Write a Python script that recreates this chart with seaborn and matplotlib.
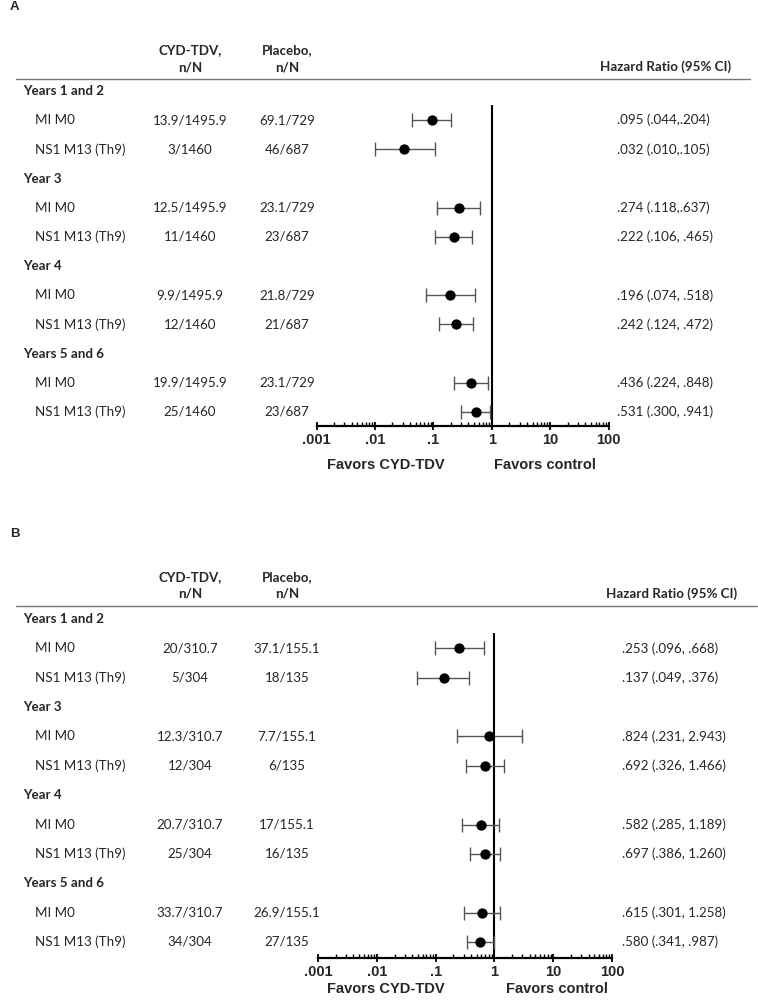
import matplotlib
matplotlib.use("Agg")
import matplotlib.pyplot as plt
import matplotlib.transforms as mtransforms
from matplotlib.lines import Line2D
from matplotlib.ticker import FixedLocator, LogLocator, NullFormatter
import numpy as np
import seaborn as sns

# ---- data -------------------------------------------------------------
groups = ["Years 1 and 2", "Year 3", "Year 4", "Years 5 and 6"]
assays = ["MI M0", "NS1 M13 (Th9)"]

a_cyd = ["13.9/1495.9", "3/1460", "12.5/1495.9", "11/1460",
         "9.9/1495.9", "12/1460", "19.9/1495.9", "25/1460"]
a_pbo = ["69.1/729", "46/687", "23.1/729", "23/687",
         "21.8/729", "21/687", "23.1/729", "23/687"]
a_hr = [0.095, 0.032, 0.274, 0.222, 0.196, 0.242, 0.436, 0.531]
a_lo = [0.044, 0.010, 0.118, 0.106, 0.074, 0.124, 0.224, 0.300]
a_hi = [0.204, 0.105, 0.637, 0.465, 0.518, 0.472, 0.848, 0.941]
a_txt = [".095 (.044,.204)", ".032 (.010,.105)", ".274 (.118,.637)",
         ".222 (.106, .465)", ".196 (.074, .518)", ".242 (.124, .472)",
         ".436 (.224, .848)", ".531 (.300, .941)"]

b_cyd = ["20/310.7", "5/304", "12.3/310.7", "12/304",
         "20.7/310.7", "25/304", "33.7/310.7", "34/304"]
b_pbo = ["37.1/155.1", "18/135", "7.7/155.1", "6/135",
         "17/155.1", "16/135", "26.9/155.1", "27/135"]
b_hr = [0.253, 0.137, 0.824, 0.692, 0.582, 0.697, 0.615, 0.580]
b_lo = [0.096, 0.049, 0.231, 0.326, 0.285, 0.386, 0.301, 0.341]
b_hi = [0.668, 0.376, 2.943, 1.466, 1.189, 1.260, 1.258, 0.987]
b_txt = [".253 (.096, .668)", ".137 (.049, .376)", ".824 (.231, 2.943)",
         ".692 (.326, 1.466)", ".582 (.285, 1.189)", ".697 (.386, 1.260)",
         ".615 (.301, 1.258)", ".580 (.341, .987)"]

tick_vals = [0.001, 0.01, 0.1, 1, 10, 100]
tick_labels = [".001", ".01", ".1", "1", "10", "100"]

# ---- style ------------------------------------------------------------
sns.set_theme(style="white")
plt.rcParams["font.family"] = ["Lato", "DejaVu Sans"]
BODY = 9.6
AXFONT = ["Liberation Sans", "DejaVu Sans"]

W, H = 758, 1001
fig = plt.figure(figsize=(W / 100, H / 100), dpi=100)


def fx(x):
    return x / W


def fy(y):
    return 1 - y / H


def panel(letter, top, row0, step, axis_y, x0, x1, hr_x, hr_head_r, sep_r,
          fav_y, ctrl_x, cyd, pbo, hr, lo, hi, txt):
    fig.text(fx(10), fy(top - 72), letter, fontsize=9.5, fontweight="bold",
             family=AXFONT, va="center")
    sep_y = top
    ax = fig.add_axes([fx(x0), fy(axis_y), fx(x1) - fx(x0), (axis_y - sep_y - 1) / H])
    ax.set_xscale("log")
    ax.set_xlim(tick_vals[0], tick_vals[-1])
    ax.set_ylim((axis_y - row0) / step, (sep_y + 1 - row0) / step)
    ax.patch.set_alpha(0)

    # header
    for cx, head in [(190, "CYD-TDV,"), (287, "Placebo,")]:
        fig.text(fx(cx), fy(sep_y - 29), head, ha="center", va="center",
                 fontsize=BODY, fontweight="bold")
        fig.text(fx(cx), fy(sep_y - 12), "n/N", ha="center", va="center",
                 fontsize=BODY, fontweight="bold")
    fig.text(fx(hr_head_r), fy(sep_y - 12), "Hazard Ratio (95% CI)", ha="right",
             va="center", fontsize=9.6, fontweight="bold")
    fig.add_artist(Line2D([fx(16), fx(sep_r)], [fy(sep_y), fy(sep_y)],
                          color="#777777", lw=1.0, transform=fig.transFigure))

    tr = mtransforms.blended_transform_factory(fig.transFigure, ax.transData)
    rows = []
    for g, name in enumerate(groups):
        ax.text(fx(23), g * 3, name, transform=tr, fontsize=BODY,
                fontweight="bold", va="center", clip_on=False)
        for j, assay in enumerate(assays):
            k = g * 2 + j
            r = g * 3 + 1 + j
            rows.append(r)
            ax.text(fx(35), r, assay, transform=tr, fontsize=BODY, va="center")
            ax.text(fx(190), r, cyd[k], transform=tr, fontsize=BODY,
                    va="center", ha="center")
            ax.text(fx(287), r, pbo[k], transform=tr, fontsize=BODY,
                    va="center", ha="center")
            ax.text(fx(hr_x), r, txt[k], transform=tr, fontsize=BODY,
                    va="center", ha="left")

    hr_a = np.array(hr)
    ax.errorbar(hr_a, rows, xerr=[hr_a - np.array(lo), np.array(hi) - hr_a],
                fmt="none", ecolor="#555555", elinewidth=1.0, capsize=5,
                capthick=1.0, zorder=2)
    sns.scatterplot(x=hr_a, y=rows, ax=ax, color="black", s=55,
                    edgecolor="black", linewidth=0, zorder=3, legend=False)
    ax.vlines(1, 0.48, ax.get_ylim()[0], color="black", lw=1.5, zorder=1)

    for side in ["top", "left", "right"]:
        ax.spines[side].set_visible(False)
    ax.spines["bottom"].set_color("black")
    ax.spines["bottom"].set_linewidth(1.6)
    ax.set_yticks([])
    ax.xaxis.set_major_locator(FixedLocator(tick_vals))
    ax.set_xticklabels(tick_labels, fontsize=10.5, fontweight="bold",
                       family=AXFONT)
    ax.xaxis.set_minor_locator(LogLocator(base=10, subs=np.arange(2, 10)))
    ax.xaxis.set_minor_formatter(NullFormatter())
    ax.tick_params(axis="x", which="major", direction="inout", length=6,
                   width=1.3, color="black", pad=2, bottom=True)
    ax.tick_params(axis="x", which="minor", direction="in", length=3,
                   width=1.0, color="black", bottom=True)
    ax.set_xlabel("")
    ax.set_ylabel("")

    fig.text(fx(386), fy(fav_y), "Favors CYD-TDV", ha="center", va="center",
             fontsize=10.5, fontweight="bold", family=AXFONT)
    fig.text(fx(ctrl_x), fy(fav_y), "Favors control", ha="center", va="center",
             fontsize=10.5, fontweight="bold", family=AXFONT)


panel("A", 79, 91, 29.18, 426, 316.5, 608.5, 617, 731, 750, 465, 545,
      a_cyd, a_pbo, a_hr, a_lo, a_hi, a_txt)
panel("B", 606, 619, 29.36, 958, 318, 612, 622, 737, 757, 989, 557,
      b_cyd, b_pbo, b_hr, b_lo, b_hi, b_txt)

fig.savefig("out.png", dpi=100)
